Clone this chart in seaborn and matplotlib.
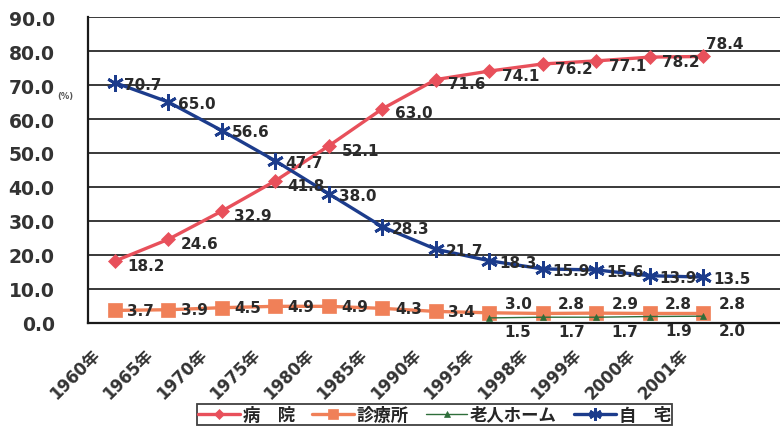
import numpy as np
import pandas as pd
import seaborn as sns
import matplotlib.pyplot as plt
import matplotlib.transforms as mtransforms

# データ
years = ["1960年", "1965年", "1970年", "1975年", "1980年", "1985年",
         "1990年", "1995年", "1998年", "1999年", "2000年", "2001年"]
byoin = [18.2, 24.6, 32.9, 41.8, 52.1, 63.0, 71.6, 74.1, 76.2, 77.1, 78.2, 78.4]
shinryojo = [3.7, 3.9, 4.5, 4.9, 4.9, 4.3, 3.4, 3.0, 2.8, 2.9, 2.8, 2.8]
rojin_home = [np.nan] * 7 + [1.5, 1.7, 1.7, 1.9, 2.0]
jitaku = [70.7, 65.0, 56.6, 47.7, 38.0, 28.3, 21.7, 18.3, 15.9, 15.6, 13.9, 13.5]
y_ticks = [0, 10, 20, 30, 40, 50, 60, 70, 80, 90]

sns.set_style("white")
plt.rcParams["font.family"] = ["DejaVu Sans", "Noto Sans CJK JP"]
plt.rcParams["font.weight"] = "bold"

x = np.arange(len(years))
df = pd.DataFrame({"x": x, "病　院": byoin, "診療所": shinryojo,
                   "老人ホーム": rojin_home, "自　宅": jitaku})

fig = plt.figure(figsize=(7.8, 4.35), dpi=100)
ax = fig.add_axes([0.1128, 0.2552, 0.8872, 0.7034])

# 系列ごとの見た目
styles = {
    "病　院": dict(color="#e8505b", marker="D", markersize=7, lw=2.4),
    "診療所": dict(color="#f08058", marker="s", markersize=10, lw=2.4),
    "老人ホーム": dict(color="#2e6e3a", marker="^", markersize=5, lw=1.0),
    "自　宅": dict(color="#1c3c8c", marker=(6, 2, 0), markersize=12, lw=2.4),
}
for name, st in styles.items():
    sub = df[["x", name]].dropna()
    sns.lineplot(data=sub, x="x", y=name, ax=ax, color=st["color"], lw=st["lw"],
                 marker=st["marker"], markersize=st["markersize"],
                 markeredgecolor=st["color"], markeredgewidth=2 if name == "自　宅" else 0.5,
                 label=name, zorder=3)

# データラベル
lab = dict(fontsize=11, fontweight="bold", color="#2a2a2a", textcoords="offset points",
           va="center", ha="left", zorder=5)
for i, v in enumerate(byoin):
    off = (2, 9) if i == len(byoin) - 1 else (9, -3)
    ax.annotate(f"{v:.1f}", (x[i], v), xytext=off, **lab)
for i, v in enumerate(jitaku):
    ax.annotate(f"{v:.1f}", (x[i], v), xytext=(7, -1), **lab)
for i, v in enumerate(shinryojo):
    off = (9, 0) if i < 7 else (11, 7)
    ax.annotate(f"{v:.1f}", (x[i], v), xytext=off, **lab)
for i, v in enumerate(rojin_home):
    if not np.isnan(v):
        ax.annotate(f"{v:.1f}", (x[i], v), xytext=(11, -10), **lab)

ax.set_xlim(-0.5, 12.43)
ax.set_ylim(0, 90)
ax.set_yticks(y_ticks)
ax.set_yticklabels([f"{t:.1f}" for t in y_ticks], fontsize=13.5, fontweight="bold", color="#333333")
ax.tick_params(axis="y", length=0, pad=24)
ax.set_xticks(x)
ax.set_xticklabels(years, rotation=45, ha="right", rotation_mode="anchor",
                   fontsize=12, fontweight="bold", color="#333333")
ax.tick_params(axis="x", length=0, pad=16)
shift = mtransforms.ScaledTranslation(-24 / 100, 0, fig.dpi_scale_trans)
for t in ax.get_xticklabels():
    t.set_transform(t.get_transform() + shift)
ax.set_xlabel("")
ax.set_ylabel("")

ax.grid(axis="y", color="#2a2a2a", lw=1.3)
ax.set_axisbelow(True)
for s in ["left", "bottom"]:
    ax.spines[s].set_color("#1a1a1a")
    ax.spines[s].set_linewidth(1.6)
for s in ["top", "right"]:
    ax.spines[s].set_visible(False)

fig.text(0.073, 0.772, "(%)", fontsize=6, color="#555555")

ax.get_legend().remove()
handles, labels = ax.get_legend_handles_labels()
leg = fig.legend(handles, labels, loc="lower center", bbox_to_anchor=(0.557, 0.0), ncol=4,
                 frameon=True, fancybox=False, edgecolor="#111111", handlelength=2.4,
                 columnspacing=1.0, handletextpad=0.15, borderpad=0.1, markerscale=0.75,
                 prop={"size": 12.5, "weight": "bold"})
leg.get_frame().set_linewidth(1.3)

fig.savefig("out.png", dpi=100)
